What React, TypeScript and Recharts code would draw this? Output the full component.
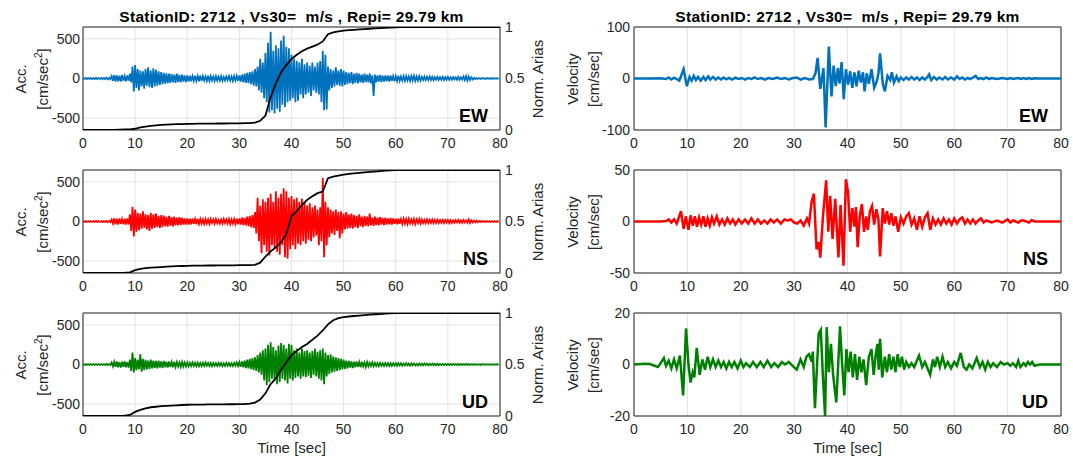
import { LineChart, Line, XAxis, YAxis, CartesianGrid, ReferenceArea } from 'recharts';
import type { ReactNode } from 'react';

const FONT = '"Liberation Sans", Arial, Helvetica, sans-serif';
const INK = '#262626';
const GRID = '#e3e3e3';

const TITLE = 'StationID: 2712 , Vs30=  m/s , Repi= 29.79 km';

const timeTicks = [0, 10, 20, 30, 40, 50, 60, 70, 80];
const accTicks = [-500, 0, 500];
const ariasTicks = [0, 0.5, 1];

// acceleration: positive / negative peak in each 0.5 s window (0 .. 79.5 s)
const ewAccHi = [
  6, 8, 5, 7, 6, 9, 6, 8, 7, 10, 8, 30, 45, 40, 35, 45, 30, 40, 60, 150,
  170, 120, 100, 90, 120, 140, 100, 130, 110, 90, 80, 70, 65, 60, 55, 50, 60, 45, 50, 40,
  40, 35, 30, 35, 30, 40, 30, 25, 35, 30, 25, 30, 25, 30, 20, 25, 30, 25, 30, 35,
  40, 50, 60, 70, 80, 90, 120, 150, 250, 200, 320, 450, 590, 350, 420, 380, 480, 540, 400, 380,
  300, 250, 220, 200, 250, 180, 200, 160, 200, 150, 200, 220, 350, 300, 150, 120, 100, 140, 100, 120,
  100, 80, 70, 80, 60, 70, 60, 50, 60, 50, 60, 40, 50, 40, 45, 35, 40, 35, 40, 30,
  30, 35, 25, 30, 30, 25, 30, 35, 25, 30, 20, 25, 20, 25, 20, 18, 20, 15, 20, 18,
  20, 15, 18, 15, 20, 15, 25, 30, 25, 15, 8, 6, 5, 5, 4, 5, 4, 5, 4, 4,
];
const ewAccLo = [
  -6, -7, -5, -8, -6, -7, -6, -9, -7, -10, -9, -30, -40, -35, -40, -30, -35, -30, -50, -165,
  -120, -150, -100, -130, -90, -110, -120, -100, -90, -80, -70, -65, -60, -55, -50, -55, -45, -50, -40, -45,
  -40, -35, -30, -30, -35, -30, -25, -30, -30, -25, -30, -25, -25, -30, -25, -20, -25, -30, -25, -30,
  -40, -50, -55, -60, -70, -90, -100, -150, -180, -250, -300, -430, -400, -440, -380, -420, -330, -360, -300, -280,
  -250, -300, -280, -200, -250, -200, -180, -220, -150, -180, -200, -300, -400, -390, -150, -120, -100, -80, -90, -100,
  -80, -70, -60, -70, -55, -60, -50, -55, -45, -50, -60, -220, -50, -40, -45, -40, -35, -40, -30, -35,
  -30, -30, -25, -30, -25, -30, -25, -30, -25, -25, -20, -20, -18, -20, -20, -15, -18, -15, -18, -15,
  -15, -15, -12, -15, -15, -12, -20, -25, -18, -12, -7, -5, -5, -4, -5, -4, -5, -4, -4, -4,
];

const nsAccHi = [
  5, 6, 5, 6, 5, 7, 5, 6, 6, 8, 7, 25, 40, 35, 40, 30, 35, 40, 90, 185,
  150, 110, 100, 130, 90, 80, 110, 90, 100, 70, 80, 75, 60, 70, 55, 60, 50, 55, 45, 40,
  40, 35, 40, 30, 35, 30, 25, 30, 25, 30, 25, 30, 20, 25, 30, 25, 30, 25, 30, 35,
  40, 50, 45, 60, 70, 80, 120, 300, 200, 280, 250, 300, 350, 250, 380, 300, 350, 420, 380, 300,
  320, 280, 300, 250, 290, 250, 200, 230, 180, 200, 150, 180, 550, 250, 180, 150, 130, 150, 120, 130,
  100, 120, 90, 100, 80, 70, 90, 60, 70, 60, 100, 50, 60, 50, 55, 45, 50, 40, 45, 40,
  35, 40, 30, 35, 30, 35, 25, 30, 25, 30, 25, 20, 25, 20, 25, 20, 22, 18, 20, 18,
  20, 18, 15, 18, 20, 15, 18, 15, 25, 15, 12, 10, 8, 8, 6, 6, 5, 5, 5, 5,
];
const nsAccLo = [
  -5, -6, -5, -6, -5, -6, -6, -7, -6, -8, -7, -25, -35, -40, -30, -35, -40, -35, -120, -190,
  -130, -110, -90, -80, -100, -120, -90, -80, -70, -80, -70, -60, -65, -55, -60, -50, -50, -45, -40, -40,
  -40, -35, -30, -35, -30, -25, -30, -25, -30, -20, -25, -20, -25, -25, -20, -25, -30, -25, -30, -35,
  -40, -45, -50, -60, -70, -80, -150, -250, -400, -300, -380, -430, -300, -350, -380, -420, -300, -450, -470, -350,
  -300, -350, -280, -300, -250, -280, -230, -250, -200, -180, -300, -250, -450, -300, -200, -150, -170, -120, -210, -150,
  -100, -90, -80, -90, -70, -80, -60, -70, -55, -60, -50, -55, -45, -50, -40, -45, -40, -35, -40, -30,
  -35, -30, -30, -25, -30, -25, -25, -30, -20, -25, -20, -22, -20, -18, -20, -18, -18, -15, -18, -15,
  -18, -15, -15, -12, -15, -15, -12, -15, -18, -12, -10, -8, -6, -6, -5, -5, -5, -5, -5, -5,
];

const udAccHi = [
  5, 5, 6, 5, 6, 5, 6, 5, 6, 7, 6, 25, 35, 40, 30, 35, 40, 30, 60, 150,
  80, 60, 130, 70, 60, 50, 60, 50, 45, 50, 40, 45, 35, 40, 30, 35, 30, 25, 30, 25,
  25, 20, 25, 20, 22, 18, 20, 25, 20, 18, 20, 15, 20, 18, 15, 20, 18, 15, 20, 25,
  30, 40, 50, 60, 70, 80, 90, 120, 150, 180, 200, 250, 280, 220, 180, 240, 270, 250, 200, 260,
  250, 180, 200, 150, 200, 170, 180, 150, 170, 200, 160, 180, 200, 150, 120, 130, 100, 90, 80, 70,
  60, 50, 45, 40, 35, 40, 30, 35, 25, 30, 20, 25, 20, 18, 20, 15, 18, 15, 18, 15,
  15, 18, 15, 12, 15, 12, 14, 12, 10, 12, 10, 12, 10, 8, 10, 8, 9, 8, 8, 7,
  8, 7, 8, 6, 7, 8, 6, 7, 6, 5, 5, 4, 4, 5, 4, 4, 4, 4, 4, 4,
];
const udAccLo = [
  -5, -5, -6, -5, -6, -5, -6, -5, -6, -7, -6, -25, -30, -35, -40, -30, -35, -40, -80, -100,
  -70, -60, -90, -70, -60, -55, -50, -45, -50, -40, -45, -35, -40, -30, -35, -30, -25, -30, -25, -25,
  -22, -20, -18, -22, -20, -18, -20, -15, -18, -20, -15, -18, -15, -20, -18, -15, -18, -20, -15, -20,
  -30, -35, -45, -50, -60, -70, -80, -100, -130, -200, -260, -220, -180, -200, -250, -220, -180, -200, -240, -180,
  -200, -170, -150, -180, -150, -160, -140, -170, -130, -150, -180, -200, -250, -150, -120, -100, -90, -80, -70, -60,
  -55, -50, -40, -45, -35, -30, -35, -25, -30, -25, -20, -22, -18, -20, -15, -18, -15, -18, -15, -15,
  -15, -12, -15, -12, -12, -14, -10, -12, -12, -10, -10, -8, -10, -8, -8, -9, -8, -7, -8, -7,
  -7, -8, -6, -7, -6, -7, -6, -6, -5, -5, -4, -4, -5, -4, -4, -4, -4, -4, -4, -4,
];

// normalised Arias intensity, one value per second (0 .. 80 s)
const ewArias = [
  0, 0, 0, 0, 0, 0.001, 0.002, 0.003, 0.005, 0.007,
  0.012, 0.025, 0.033, 0.04, 0.045, 0.049, 0.052, 0.055, 0.057, 0.058,
  0.059, 0.06, 0.061, 0.061, 0.062, 0.062, 0.063, 0.063, 0.064, 0.064,
  0.065, 0.066, 0.067, 0.072, 0.09, 0.14, 0.32, 0.45, 0.56, 0.63,
  0.69, 0.73, 0.765, 0.79, 0.81, 0.83, 0.86, 0.93, 0.948, 0.958,
  0.965, 0.969, 0.973, 0.976, 0.979, 0.983, 0.986, 0.989, 0.992, 0.995,
  0.997, 0.998, 0.998, 0.999, 0.999, 0.999, 1, 1, 1, 1,
  1, 1, 1, 1, 1, 1, 1, 1, 1, 1, 1,
];
const nsArias = [
  0, 0, 0, 0, 0, 0, 0.001, 0.002, 0.003, 0.006,
  0.028, 0.04, 0.048, 0.052, 0.055, 0.058, 0.061, 0.064, 0.066, 0.068,
  0.07, 0.071, 0.072, 0.072, 0.073, 0.073, 0.074, 0.074, 0.075, 0.075,
  0.076, 0.076, 0.077, 0.079, 0.1, 0.16, 0.21, 0.25, 0.3, 0.38,
  0.55, 0.6, 0.66, 0.71, 0.745, 0.775, 0.79, 0.92, 0.935, 0.945,
  0.955, 0.962, 0.968, 0.973, 0.977, 0.981, 0.985, 0.989, 0.993, 0.996,
  0.998, 0.999, 0.999, 1, 1, 1, 1, 1, 1, 1,
  1, 1, 1, 1, 1, 1, 1, 1, 1, 1, 1,
];
const udArias = [
  0, 0, 0, 0, 0, 0, 0.001, 0.002, 0.004, 0.01,
  0.04, 0.06, 0.075, 0.085, 0.09, 0.095, 0.098, 0.101, 0.104, 0.107,
  0.109, 0.11, 0.111, 0.111, 0.112, 0.112, 0.113, 0.113, 0.114, 0.114,
  0.115, 0.116, 0.12, 0.13, 0.16, 0.22, 0.31, 0.365, 0.45, 0.52,
  0.59, 0.63, 0.67, 0.7, 0.74, 0.78, 0.83, 0.89, 0.93, 0.95,
  0.96, 0.966, 0.971, 0.975, 0.98, 0.985, 0.988, 0.99, 0.993, 0.996,
  0.998, 0.999, 1, 1, 1, 1, 1, 1, 1, 1,
  1, 1, 1, 1, 1, 1, 1, 1, 1, 1, 1,
];

// velocity: [time s, cm/sec] at the turning points of the trace
const ewVelocity: [number, number][] = [
  [0, 0], [3, 0], [5, 0.5], [6, -1], [6.5, 2], [7, -2], [7.5, 1.5], [8, -1], [8.5, -4], [9.3, 18],
  [9.9, -15], [10.4, 3], [10.8, -4], [11.2, 5], [11.6, -3], [12, 3], [12.5, -4], [13, 3], [13.4, -3], [13.9, 4],
  [14.3, -2], [14.8, 3], [15.3, -2], [15.8, 2], [16.3, -2], [16.8, 2], [17.3, -1.5], [17.8, 1], [18.4, -2], [19, 1.5],
  [19.6, -1], [20.2, 1], [20.8, -2], [21.4, 1], [22, -1], [22.6, 2], [23.2, -1], [23.8, 1], [24.5, -2], [25.2, 1],
  [26, -1], [26.8, 2], [27.5, -1], [28.3, 1], [29, -2], [29.8, 1], [30.5, 2], [31.2, -2], [32, 1], [32.8, -2],
  [33.5, -1], [34, 10], [34.4, 40], [34.9, -20], [35.5, 20], [35.9, -95], [36.5, 62], [37, -35], [37.4, 25], [37.8, -15],
  [38.2, 20], [38.5, -10], [38.9, 32], [39.3, -40], [39.7, 18], [40.1, -12], [40.5, 14], [40.9, -18], [41.3, 12], [41.7, -15],
  [42.1, 15], [42.5, -8], [42.9, 12], [43.2, -25], [43.6, 10], [44, -10], [44.5, 18], [45, -18], [45.5, -5], [45.8, 10],
  [46.1, 49], [46.6, -10], [47, -25], [47.5, 5], [48, -3], [48.3, 12], [48.7, -8], [49.2, 4], [49.6, -5], [50, 2],
  [50.5, -3], [51, 2], [51.5, -2], [52, 3], [52.5, -2], [53, 2], [53.5, -3], [54, 2], [54.5, -2], [55, 3],
  [55.3, 8], [55.7, -3], [56.2, 3], [56.7, -2], [57.2, 2], [57.8, -2], [58.3, 3], [58.8, -2], [59.4, 2], [60, -2],
  [60.5, 4], [61, -1], [61.5, 2], [62, -2], [62.5, 1], [63, -1], [63.5, 2], [64, 5], [64.5, -1], [65, 1],
  [65.5, -1], [66, 2], [66.5, -1], [67, 1], [68, -1], [69, 1], [70, -1], [70.5, 1], [71, -1], [72, 1],
  [72.5, -1], [73, 1], [73.5, -1], [74, 1], [74.5, -1], [75, 0.5], [76, 0], [80, 0],
];
const nsVelocity: [number, number][] = [
  [0, 0], [5, 0], [6, 0.5], [6.5, 2], [7, -1], [7.5, 2], [8, -2], [8.8, 10], [9.3, -7], [9.7, 5],
  [10.2, -8], [10.6, 6], [11, -4], [11.4, 5], [11.8, -5], [12.2, 4], [12.6, -3], [13, 5], [13.4, -5], [13.8, 3],
  [14.2, -4], [14.6, 4], [15, -2], [15.5, 5], [16, -3], [16.5, 2], [17, -3], [17.5, 3], [18, -2], [18.5, 2],
  [19, -3], [19.6, 2], [20.2, -2], [20.8, 2], [21.4, -2], [22, 3], [22.6, -2], [23.2, 2], [23.8, -2], [24.4, 1],
  [25, -2], [25.6, 2], [26.2, -1], [26.8, 2], [27.5, -2], [28.2, 2], [28.8, 1], [29.4, 2], [30, -1], [30.6, -2],
  [31.2, 1], [31.8, -4], [32.4, 3], [32.8, -2], [33.3, 20], [33.7, 27], [34.2, -27], [34.6, -20], [34.9, -35], [35.4, 5],
  [36, 40], [36.4, -10], [36.75, 25], [37.2, -17], [37.7, 22], [38.3, -35], [38.7, 16], [39.25, -43], [39.7, 41], [40.1, 28],
  [40.5, -10], [40.9, 13], [41.3, -5], [41.6, 14], [41.9, -25], [42.3, 5], [42.7, 17], [43.1, -10], [43.5, 5], [43.8, -8],
  [44.2, 10], [44.6, 15], [45, -3], [45.4, 12], [45.8, 2], [46.1, -34], [46.6, 13], [47, -2], [47.4, 10], [47.8, -3],
  [48.2, 8], [48.6, -4], [49, 5], [49.5, -10], [50, 4], [50.5, -2], [51, 5], [51.5, 8], [52, -3], [52.5, 3],
  [53, -8], [53.5, 5], [54, -5], [54.5, 4], [55, 8], [55.5, -8], [56, 3], [56.5, -3], [57, 2], [57.5, -3],
  [58, 3], [58.5, -2], [59, 2], [59.5, -3], [60, 3], [60.5, -2], [61, 2], [61.5, 4], [62, -2], [62.5, 2],
  [63, -2], [63.5, 2], [64, -2], [64.5, 1], [65, 3], [65.5, -1], [66, 1], [67, -1], [68, 1], [69, -1],
  [70, 2], [70.5, -1], [71, 1], [72, -1], [72.5, 1], [73, 1], [74, -1], [74.5, 1.5], [75, 0], [76, 0], [80, 0],
];
const udVelocity: [number, number][] = [
  [0, 0], [2, 0.3], [3, 0.2], [4.5, -1], [5.6, 2.5], [6, -0.5], [6.5, 1.5], [7, -1.5], [7.5, 2], [8, -1.5],
  [8.6, 3.5], [9.2, -12], [9.75, 14], [10.2, 0], [10.6, -7], [11, -3], [11.3, -5], [11.75, 6.5], [12.3, -4], [12.8, 2],
  [13.3, -2], [13.8, 3], [14.3, -1], [14.8, 2], [15.3, -1], [15.8, 1.5], [16.3, -1], [16.8, 1], [17.3, -1.5], [17.8, 1],
  [18.3, -1], [18.8, 1], [19.4, -1.5], [20, 1.5], [20.5, -1], [21, 0.5], [21.7, -1], [22.3, 1], [23, -1], [23.7, 1],
  [24.3, -1], [25, 1.5], [25.7, -1], [26.3, 0.5], [27, -1], [27.7, 1], [28.3, 0], [29, 1], [29.7, -0.5], [30.5, -2],
  [31.2, 2], [31.8, -1], [32.3, 3], [32.8, 4], [33.3, 1], [33.5, 5], [33.9, -17], [34.3, 0], [34.6, 12], [35, 13.5],
  [35.4, -5], [35.8, -20], [36.1, 14.5], [36.5, -3], [36.9, 8], [37.3, -4], [37.9, -14.7], [38.3, 2], [38.6, 14.8], [39, 0],
  [39.4, -12], [39.8, 6], [40.2, -3], [40.6, 5], [41, -5], [41.4, 4], [41.8, -6], [42.2, 3], [42.6, -3], [43, 2],
  [43.5, -8], [44, 3], [44.5, 6], [44.9, -4], [45.3, 4], [45.6, 8], [45.85, -2], [46.1, 10], [46.5, -5], [47, 3],
  [47.4, -3], [47.8, 4], [48.2, -2], [48.6, 3], [49, -3], [49.4, 4], [49.8, -1], [50.2, 3], [50.6, -2], [51, 1],
  [51.5, -1], [52, 0.5], [52.5, -1], [53.4, 3.5], [54, -1], [54.5, 1], [55.5, -4], [56, 2], [56.4, -1], [56.8, 3],
  [57.3, -1], [57.8, 3], [58.3, -1], [58.8, 1], [59.4, -1.5], [60, 1], [60.5, -0.5], [61.2, 4.5], [61.8, -1], [62.3, -2],
  [62.8, 0], [63.4, -1.5], [64.2, 2.5], [64.8, -1], [65.3, 1], [65.8, -2], [66.3, 1], [66.8, -1], [67.3, 0.5], [68, -1],
  [68.7, 1], [69.3, 0], [70, 0.5], [70.5, -0.5], [71, 0.5], [71.6, -1], [72, 1.5], [72.4, -1], [73, 0.5], [73.4, -0.5],
  [73.8, 1], [74.2, 0], [74.6, 1], [75, -0.5], [76, 0], [80, 0],
];

const PANEL_TOPS = [27, 170, 313];
const PLOT_H = 103;
const ACC_LEFT = 83;
const ACC_RIGHT = 500;
const VEL_LEFT = 634;
const VEL_RIGHT = 1061;

const tickStyle = { fontSize: 14, fill: INK, fontFamily: FONT };

function zigzag(hi: number[], lo: number[]) {
  const rows: { t: number; y: number }[] = [];
  hi.forEach((h, i) => {
    rows.push({ t: i * 0.5, y: h });
    rows.push({ t: i * 0.5 + 0.25, y: lo[i] });
  });
  return rows;
}

function Txt({ x, y, size = 15, bold = false, rotate = false, anchor = 'middle', spacing = 0, children }: {
  x: number; y: number; size?: number; bold?: boolean; rotate?: boolean; anchor?: 'middle' | 'end'; spacing?: number; children: ReactNode;
}) {
  const tx = anchor === 'end' ? '-100%' : '-50%';
  return (
    <div
      style={{
        position: 'absolute',
        left: x,
        top: y,
        transform: `translate(${tx}, -50%)${rotate ? ' rotate(-90deg)' : ''}`,
        fontSize: size,
        fontWeight: bold ? 'bold' : 'normal',
        color: bold ? '#000' : INK,
        letterSpacing: spacing,
        lineHeight: 1,
        whiteSpace: 'pre',
      }}
    >
      {children}
    </div>
  );
}

function AccPanel({ top, hi, lo, arias, color }: { top: number; hi: number[]; lo: number[]; arias: number[]; color: string }) {
  const acc = zigzag(hi, lo);
  const ar = arias.map((a, i) => ({ t: i, y: a }));
  return (
    <div style={{ position: 'absolute', left: ACC_LEFT - 40, top: top - 8 }}>
      <LineChart width={ACC_RIGHT - ACC_LEFT + 70} height={PLOT_H + 30} margin={{ top: 8, right: 0, bottom: 0, left: 0 }}>
        <CartesianGrid stroke={GRID} yAxisId="acc" />
        <XAxis dataKey="t" type="number" domain={[0, 80]} ticks={timeTicks} height={22} axisLine={false}
          tickLine={false} tickSize={0} tickMargin={8} tick={tickStyle} allowDataOverflow />
        <YAxis yAxisId="acc" type="number" domain={[-650, 650]} ticks={accTicks} width={40} axisLine={false}
          tickLine={false} tickSize={0} tickMargin={3} tick={tickStyle} allowDataOverflow />
        <YAxis yAxisId="arias" orientation="right" type="number" domain={[0, 1]} ticks={ariasTicks} width={30}
          axisLine={false} tickLine={false} tickSize={0} tickMargin={5} tick={tickStyle} allowDataOverflow />
        <ReferenceArea yAxisId="acc" x1={0} x2={80} y1={-650} y2={650} fill="none" stroke={INK} strokeWidth={1} />
        <Line data={acc} dataKey="y" yAxisId="acc" type="linear" stroke={color} strokeWidth={1.8} dot={false} isAnimationActive={false} />
        <Line data={ar} dataKey="y" yAxisId="arias" type="linear" stroke="#000" strokeWidth={1.8} dot={false} isAnimationActive={false} />
      </LineChart>
    </div>
  );
}

function VelPanel({ top, points, color, limit }: { top: number; points: [number, number][]; color: string; limit: number }) {
  const vel = points.map(([t, v]) => ({ t, v }));
  return (
    <div style={{ position: 'absolute', left: VEL_LEFT - 40, top: top - 8 }}>
      <LineChart width={VEL_RIGHT - VEL_LEFT + 48} height={PLOT_H + 30} margin={{ top: 8, right: 8, bottom: 0, left: 0 }}>
        <CartesianGrid stroke={GRID} />
        <XAxis dataKey="t" type="number" domain={[0, 80]} ticks={timeTicks} height={22} axisLine={false}
          tickLine={false} tickSize={0} tickMargin={8} tick={tickStyle} allowDataOverflow />
        <YAxis type="number" domain={[-limit, limit]} ticks={[-limit, 0, limit]} width={40} axisLine={false}
          tickLine={false} tickSize={0} tickMargin={4} tick={tickStyle} allowDataOverflow />
        <ReferenceArea x1={0} x2={80} y1={-limit} y2={limit} fill="none" stroke={INK} strokeWidth={1} />
        <Line data={vel} dataKey="v" type="linear" stroke={color} strokeWidth={2.5} dot={false} isAnimationActive={false} />
      </LineChart>
    </div>
  );
}

const components = [
  { name: 'EW', color: '#0072BD', hi: ewAccHi, lo: ewAccLo, arias: ewArias, vel: ewVelocity, limit: 100 },
  { name: 'NS', color: '#FF0000', hi: nsAccHi, lo: nsAccLo, arias: nsArias, vel: nsVelocity, limit: 50 },
  { name: 'UD', color: '#008000', hi: udAccHi, lo: udAccLo, arias: udArias, vel: udVelocity, limit: 20 },
];

export default function App() {
  const accMid = (ACC_LEFT + ACC_RIGHT) / 2;
  const velMid = (VEL_LEFT + VEL_RIGHT) / 2;
  return (
    <div style={{ position: 'absolute', left: 0, top: 0, width: 1073, height: 461, background: '#fff', fontFamily: FONT, overflow: 'hidden' }}>
      {components.map((c, i) => {
        const top = PANEL_TOPS[i];
        const mid = top + PLOT_H / 2;
        return (
          <div key={c.name}>
            <AccPanel top={top} hi={c.hi} lo={c.lo} arias={c.arias} color={c.color} />
            <VelPanel top={top} points={c.vel} color={c.color} limit={c.limit} />
            <Txt x={19.5} y={mid} rotate>Acc.</Txt>
            <Txt x={42} y={mid} rotate>
              [cm/sec<span style={{ fontSize: 10, verticalAlign: 'super' }}>2</span>]
            </Txt>
            <Txt x={536.5} y={mid} rotate>Norm. Arias</Txt>
            <Txt x={571.5} y={mid} rotate>Velocity</Txt>
            <Txt x={592.5} y={mid} rotate>[cm/sec]</Txt>
            <Txt x={ACC_RIGHT - 12} y={top + 89} size={18} bold anchor="end">{c.name}</Txt>
            <Txt x={VEL_RIGHT - 13} y={top + 89} size={18} bold anchor="end">{c.name}</Txt>
          </div>
        );
      })}
      <Txt x={accMid} y={16.5} size={15.5} bold spacing={0.3}>{TITLE}</Txt>
      <Txt x={velMid} y={16.5} size={15.5} bold spacing={0.3}>{TITLE}</Txt>
      <Txt x={accMid} y={446.5}>Time [sec]</Txt>
      <Txt x={velMid} y={446.5}>Time [sec]</Txt>
    </div>
  );
}
